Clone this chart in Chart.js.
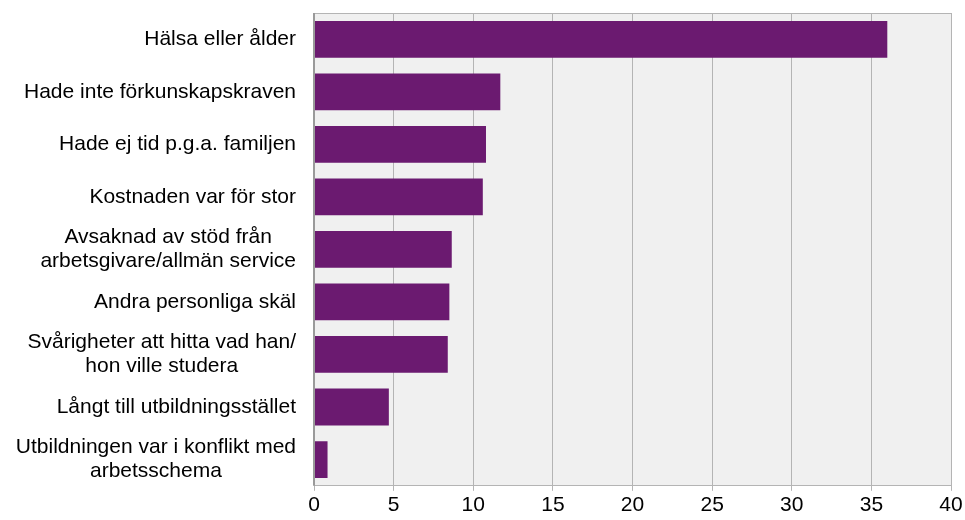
<!DOCTYPE html>
<html>
<head>
<meta charset="utf-8">
<script src="https://cdn.jsdelivr.net/npm/chart.js@4/dist/chart.umd.min.js"></script>
<style>
  html, body { margin: 0; padding: 0; background: #fff; }
  #wrap { width: 965px; height: 520px; }
</style>
</head>
<body>
<div id="wrap"><canvas id="reasons"></canvas></div>
<script>
// categories (multi-line labels as arrays)
let reasons = [
  "Hälsa eller ålder",
  "Hade inte förkunskapskraven",
  "Hade ej tid p.g.a. familjen",
  "Kostnaden var för stor",
  ["Avsaknad av stöd från", "arbetsgivare/allmän service"],
  "Andra personliga skäl",
  ["Svårigheter att hitta vad han/", "hon ville studera"],
  "Långt till utbildningsstället",
  ["Utbildningen var i konflikt med", "arbetsschema"],
];
let shares = [36.0, 11.7, 10.8, 10.6, 8.65, 8.5, 8.4, 4.7, 0.85];
let xMin = 0;
let xMax = 40;
let xStep = 5;

let font = "Liberation Sans, Arial, sans-serif";

// grey plot background + frame
let plotBg = {
  id: "plotBg",
  beforeDraw(chart) {
    let a = chart.chartArea;
    let ctx = chart.ctx;
    ctx.save();
    ctx.fillStyle = "#f0f0f0";
    ctx.fillRect(a.left, a.top, a.right - a.left, a.bottom - a.top);
    ctx.restore();
  },
  afterDraw(chart) {
    let a = chart.chartArea;
    let ctx = chart.ctx;
    ctx.save();
    ctx.strokeStyle = "#b4b4b4";
    ctx.lineWidth = 1;
    ctx.beginPath();
    ctx.moveTo(a.left, a.top + 0.5);
    ctx.lineTo(a.right, a.top + 0.5);
    ctx.stroke();
    ctx.strokeStyle = "#9a9a9a";
    ctx.lineWidth = 2;
    ctx.beginPath();
    ctx.moveTo(a.left, a.top);
    ctx.lineTo(a.left, a.bottom);
    ctx.stroke();
    ctx.restore();
  },
};

// category labels: block right-aligned, lines centred inside the block
let catLabels = {
  id: "catLabels",
  afterDraw(chart) {
    let y = chart.scales.y;
    let ctx = chart.ctx;
    let right = chart.chartArea.left - 18;
    ctx.save();
    ctx.font = "21px " + font;
    ctx.fillStyle = "#000";
    ctx.textAlign = "center";
    ctx.textBaseline = "middle";
    chart.data.labels.forEach((lab, i) => {
      let lines = Array.isArray(lab) ? lab : [lab];
      let w = Math.max(...lines.map((l) => ctx.measureText(l).width));
      let cx = right - w / 2;
      let py = y.getPixelForValue(i);
      lines.forEach((l, k) => {
        ctx.fillText(l, cx, py + (k - (lines.length - 1) / 2) * 24);
      });
    });
    ctx.restore();
  },
};

let myreasons = document.getElementById("reasons").getContext("2d");
let Reasons = new Chart(myreasons, {
  type: "bar",
  data: {
    labels: reasons,
    datasets: [
      {
        label: "Andel",
        data: shares,
        backgroundColor: "#6b1a70",
        borderWidth: 0,
        barPercentage: 0.7,
        categoryPercentage: 1.0,
      },
    ],
  },
  options: {
    indexAxis: "y",
    responsive: true,
    maintainAspectRatio: false,
    animation: false,
    layout: { padding: { top: 13, right: 14, bottom: 0, left: 0 } },
    plugins: {
      legend: { display: false },
      tooltip: { enabled: false },
    },
    scales: {
      x: {
        min: xMin,
        max: xMax,
        ticks: {
          stepSize: xStep,
          color: "#000",
          padding: 2,
          font: { family: font, size: 21 },
        },
        grid: {
          color: "#b4b4b4",
          lineWidth: 1,
          tickLength: 5,
        },
        border: { display: true, color: "#b4b4b4" },
      },
      y: {
        ticks: { display: false },
        grid: { display: false },
        border: { display: false },
        afterFit(scale) {
          scale.width = 314;
          scale.paddingTop = 0;
          scale.paddingBottom = 0;
        },
      },
    },
  },
  plugins: [plotBg, catLabels],
});
</script>
</body>
</html>
